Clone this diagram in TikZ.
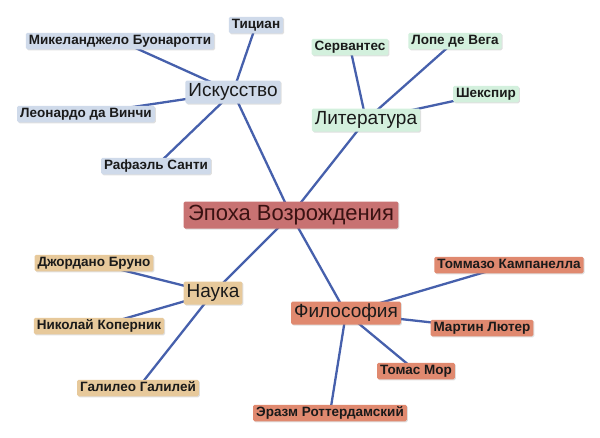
\documentclass[tikz,border=0pt]{standalone}
\usepackage{fontspec}
\setmainfont{Liberation Sans}
\usetikzlibrary{backgrounds,shadows}
\definecolor{edgecol}{HTML}{4660AC}
\definecolor{centercol}{HTML}{C87272}
\definecolor{artcol}{HTML}{CFDAEA}
\definecolor{litcol}{HTML}{D3F0DD}
\definecolor{scicol}{HTML}{E7C99B}
\definecolor{philcol}{HTML}{E0896F}
\definecolor{txtcol}{HTML}{1A1A1A}
\definecolor{roottxt}{HTML}{3A1212}
\tikzset{
  box/.style={rounded corners=1.5pt, text=txtcol, inner xsep=3pt, inner ysep=0pt,
    drop shadow={opacity=0.25, shadow xshift=1pt, shadow yshift=-1pt}},
  leaf/.style={box, font=\fontsize{13.5}{15}\selectfont\bfseries, text height=11.5pt, text depth=5pt},
  hub/.style={box, font=\fontsize{19}{21}\selectfont, text height=16pt, text depth=7pt},
  root/.style={box, font=\fontsize{22}{24}\selectfont, text height=19pt, text depth=8pt, fill=centercol, inner xsep=4.5pt, text=roottxt},
  art/.style={fill=artcol},
  lit/.style={fill=litcol},
  sci/.style={fill=scicol},
  phil/.style={fill=philcol},
  link/.style={draw=edgecol, line width=2.3pt}
}
\begin{document}
\begin{tikzpicture}[x=1pt,y=-1pt]
\useasboundingbox (0,0) rectangle (600,437);
\node[root] (root) at (291,215) {Эпоха Возрождения};

\node[hub,art] (art) at (233,92) {Искусство};
\node[leaf,art] (mik) at (120,41) {Микеланджело Буонаротти};
\node[leaf,art] (tic) at (256,25) {Тициан};
\node[leaf,art] (leo) at (86,114) {Леонардо да Винчи};
\node[leaf,art] (raf) at (156,166) {Рафаэль Санти};

\node[hub,lit] (lit) at (366,120) {Литература};
\node[leaf,lit] (ser) at (350,47) {Сервантес};
\node[leaf,lit] (lop) at (455,41) {Лопе де Вега};
\node[leaf,lit] (she) at (486,94) {Шекспир};

\node[hub,sci] (sci) at (213,293) {Наука};
\node[leaf,sci] (bru) at (94,263) {Джордано Бруно};
\node[leaf,sci] (kop) at (99,326) {Николай Коперник};
\node[leaf,sci] (gal) at (138,388) {Галилео Галилей};

\node[hub,phil] (phil) at (346,313) {Философия};
\node[leaf,phil] (kam) at (509,265) {Томмазо Кампанелла};
\node[leaf,phil] (lut) at (482,328) {Мартин Лютер};
\node[leaf,phil] (mor) at (416,371) {Томас Мор};
\node[leaf,phil] (era) at (330,413) {Эразм Роттердамский};

\begin{scope}[on background layer]
\draw[link] (root.center) -- (art.center);
\draw[link] (root.center) -- (lit.center);
\draw[link] (root.center) -- (sci.center);
\draw[link] (root.center) -- (phil.center);
\foreach \n in {mik,tic,leo,raf} \draw[link] (art.center) -- (\n.center);
\foreach \n in {ser,lop,she} \draw[link] (lit.center) -- (\n.center);
\foreach \n in {bru,kop,gal} \draw[link] (sci.center) -- (\n.center);
\foreach \n in {kam,lut,mor,era} \draw[link] (phil.center) -- (\n.center);
\end{scope}
\end{tikzpicture}
\end{document}
